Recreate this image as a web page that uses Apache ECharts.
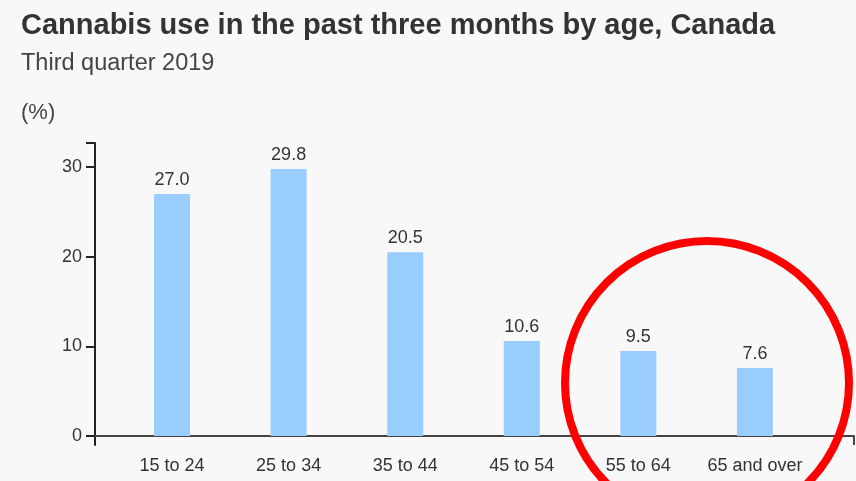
<!DOCTYPE html>
<html>
<head>
<meta charset="utf-8">
<script src="https://cdn.jsdelivr.net/npm/echarts@6/dist/echarts.min.js"></script>
<style>
	html, body { margin: 0; padding: 0; background: #f8f8f8; }
	#chart { width: 856px; height: 481px; }
</style>
</head>
<body>
<div id="chart"></div>
<script>
// Age groups and share of people who used cannabis (%)
const ageGroups = ['15 to 24', '25 to 34', '35 to 44', '45 to 54', '55 to 64', '65 and over']
const usage = [27.0, 29.8, 20.5, 10.6, 9.5, 7.6]
const yTicks = [0, 10, 20, 30]

const chart = echarts.init(document.getElementById('chart'))

// bars sit on a value axis so the axis lines can run past the last category
const barData = usage.map((v, i) => [i, v])

const option = {
	backgroundColor: '#f8f8f8',
	animation: false,
	title: [
		{
			text: 'Cannabis use in the past three months by age, Canada',
			left: 16,
			top: 6,
			textStyle: { fontFamily: 'Liberation Sans', fontSize: 29, fontWeight: 'bold', color: '#333' }
		},
		{
			text: 'Third quarter 2019',
			left: 16,
			top: 47,
			textStyle: { fontFamily: 'Liberation Sans', fontSize: 23.5, fontWeight: 'normal', color: '#444' }
		},
		{
			text: '(%)',
			left: 16,
			top: 97,
			textStyle: { fontFamily: 'Liberation Sans', fontSize: 22, fontWeight: 'normal', color: '#444' }
		}
	],
	grid: {
		left: 95,
		right: 2,
		top: 143,
		bottom: 36
	},
	xAxis: {
		type: 'value',
		min: -0.661,
		max: 5.85,
		splitLine: { show: false },
		axisLine: { onZero: true, lineStyle: { color: '#444', width: 2 } },
		axisTick: {
			show: true,
			length: 9,
			customValues: [5.85],
			lineStyle: { color: '#444', width: 2 }
		},
		axisLabel: {
			customValues: ageGroups.map((_, i) => i),
			formatter: (v) => ageGroups[Math.round(v)],
			margin: 12,
			fontFamily: 'Liberation Sans',
			fontSize: 18,
			color: '#333'
		}
	},
	yAxis: {
		type: 'value',
		min: -1,
		max: 32.7,
		splitLine: { show: false },
		axisLine: { show: true, onZero: false, lineStyle: { color: '#222', width: 2 } },
		axisTick: {
			show: true,
			length: 9,
			customValues: yTicks.concat([32.7]),
			lineStyle: { color: '#222', width: 2 }
		},
		axisLabel: {
			customValues: yTicks,
			margin: 13,
			fontFamily: 'Liberation Sans',
			fontSize: 18,
			color: '#333'
		}
	},
	series: [
		{
			type: 'bar',
			data: barData,
			barWidth: 36,
			itemStyle: { color: '#99ccff' },
			label: {
				show: true,
				position: 'top',
				distance: 5,
				formatter: (p) => p.value[1].toFixed(1),
				fontFamily: 'Liberation Sans',
				fontSize: 18,
				color: '#333'
			}
		}
	],
	graphic: [
		{
			type: 'circle',
			shape: { cx: 707, cy: 383, r: 142 },
			style: { fill: 'none', stroke: '#ff0000', lineWidth: 8 },
			z: 100
		}
	]
}

chart.setOption(option)
</script>
</body>
</html>
